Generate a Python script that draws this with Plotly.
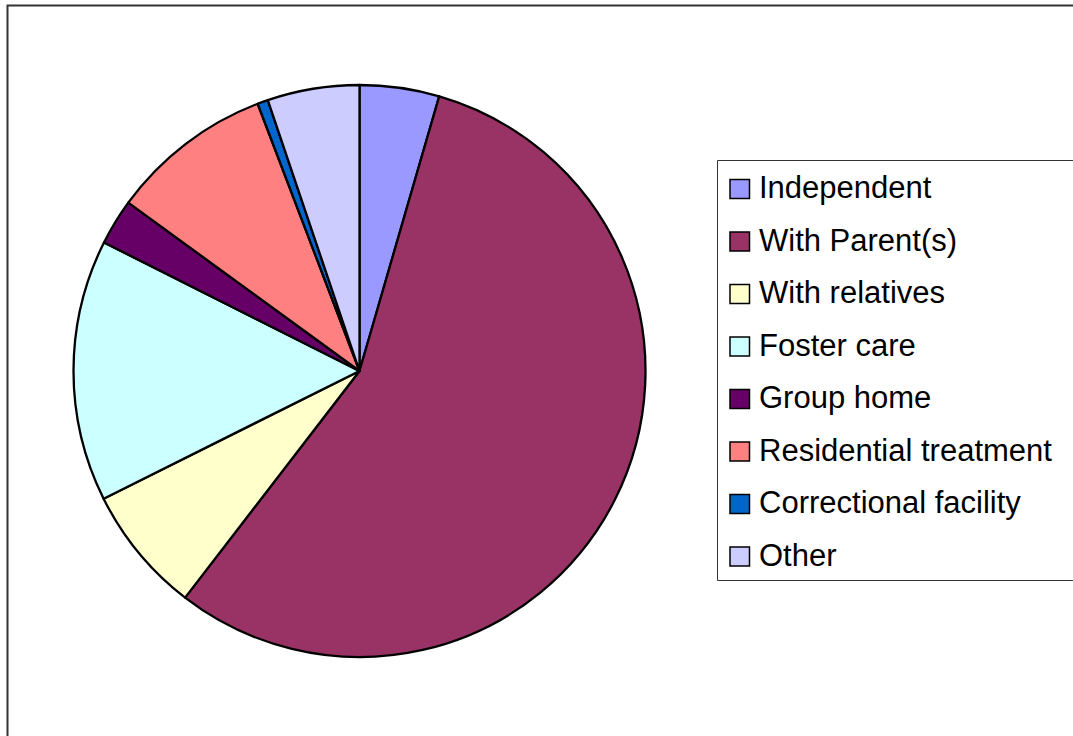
import plotly.graph_objects as go

labels = ["Independent", "With Parent(s)", "With relatives", "Foster care",
          "Group home", "Residential treatment", "Correctional facility", "Other"]
values = [4.5, 56.0, 7.2, 14.8, 2.6, 9.2, 0.6, 5.2]
colors = ["#9999FF", "#993366", "#FFFFCC", "#CCFFFF",
          "#660066", "#FF8080", "#0066CC", "#CCCCFF"]

W, H = 1073, 736

fig = go.Figure(go.Pie(
    labels=labels, values=values, sort=False, direction="clockwise", rotation=0,
    marker=dict(colors=colors, line=dict(color="black", width=2.3)),
    textinfo="none", hoverinfo="label+percent", showlegend=False,
    domain=dict(x=[73.5 / W, 645.5 / W], y=[1 - 657 / H, 1 - 85 / H]),
))

def px(x):
    return x / W

def py(y):
    return 1 - y / H

shapes = [
    # outer chart frame
    dict(type="rect", xref="paper", yref="paper", x0=px(7.5), x1=px(W + 20),
         y0=py(H + 20), y1=py(5.5), line=dict(color="#333333", width=2),
         fillcolor="rgba(0,0,0,0)", layer="below"),
    # legend box
    dict(type="rect", xref="paper", yref="paper", x0=px(717.5), x1=px(W + 20),
         y0=py(580.5), y1=py(160.5), line=dict(color="#333333", width=1),
         fillcolor="rgba(0,0,0,0)"),
]
annotations = []
y0, step = 189.0, 52.5
for i, (lab, col) in enumerate(zip(labels, colors)):
    yc = y0 + i * step
    shapes.append(dict(type="rect", xref="paper", yref="paper",
                       x0=px(730), x1=px(749.5), y0=py(yc + 9.5), y1=py(yc - 9.5),
                       fillcolor=col, line=dict(color="black", width=1.5)))
    annotations.append(dict(xref="paper", yref="paper", x=px(757), y=py(yc - 1.5),
                            xanchor="left", yanchor="middle", text=lab, showarrow=False,
                            font=dict(family="Liberation Sans, Arial, sans-serif",
                                      size=31, color="black")))

fig.update_layout(
    width=W, height=H, margin=dict(l=0, r=0, t=0, b=0),
    paper_bgcolor="white", plot_bgcolor="white",
    shapes=shapes, annotations=annotations,
)

fig.write_html(
    "out.html",
    config={"displayModeBar": False},
    post_script="document.body.style.margin='0px';document.body.style.overflow='hidden';",
)
